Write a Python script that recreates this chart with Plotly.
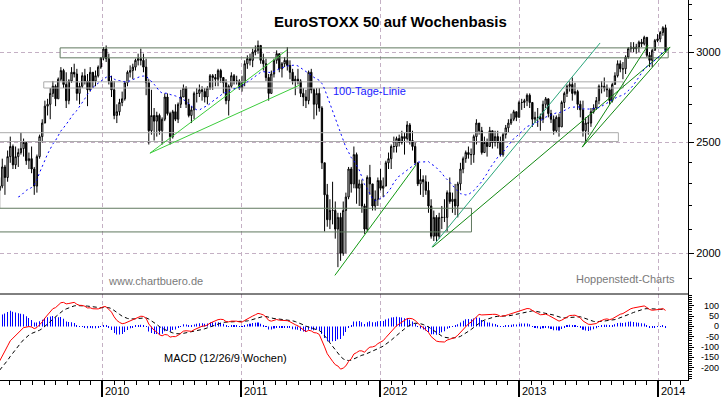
import pandas as pd
import plotly.graph_objects as go

# ---------------- data (weekly candles, weeks starting Monday) ----------------
PRE_START = "2009-01-12"          # first hidden warm-up week (used for indicators only)
pre_close = [2350, 2250, 2180, 2300, 2230, 2010, 1976, 1880, 1990, 2040, 2150, 2270]

close = [
    # 2009 (from week of Apr 6)
    2290, 2380, 2330, 2430, 2480, 2390, 2430, 2450, 2470, 2500, 2410, 2420, 2370, 2290, 2430,
    2530, 2600, 2690, 2700, 2760, 2800, 2730, 2840, 2890, 2810, 2720, 2830, 2880, 2870, 2760,
    2800, 2860, 2830, 2780, 2880, 2830, 2860, 2910, 2965,
    # 2010
    3018, 2960, 2830, 2780, 2640, 2660, 2710, 2730, 2820, 2880, 2890, 2910, 2950, 2960, 2950,
    2910, 2820, 2560, 2640, 2610, 2640, 2560, 2620, 2740, 2650, 2530, 2660, 2620, 2700, 2740,
    2790, 2700, 2640, 2670, 2760, 2760, 2780, 2770, 2740, 2790, 2860, 2850, 2840, 2890, 2850,
    2820, 2720, 2800, 2860, 2830, 2830, 2790,
    # 2011
    2820, 2930, 2960, 2950, 3000, 3010, 3040, 2950, 2930, 2850, 2760, 2870, 2950, 2990, 2900,
    2930, 2950, 2920, 2880, 2830, 2840, 2830, 2760, 2740, 2720, 2880, 2780, 2700, 2760, 2680,
    2400, 2250, 2140, 2180, 2180, 2100, 2150, 2000, 2180, 2240, 2370, 2300, 2440, 2280, 2300,
    2200, 2100, 2330, 2300, 2200, 2230, 2316,
    # 2012
    2280, 2290, 2400, 2420, 2480, 2480, 2520, 2500, 2530, 2520, 2590, 2510, 2480, 2400, 2300,
    2320, 2310, 2270, 2200, 2070, 2150, 2070, 2150, 2150, 2150, 2260, 2220, 2230, 2200, 2300,
    2370, 2420, 2450, 2440, 2440, 2530, 2600, 2560, 2450, 2500, 2480, 2560, 2500, 2530, 2500,
    2440, 2540, 2575, 2600, 2620, 2660, 2630, 2710,
    # 2013
    2710, 2720, 2750, 2710, 2620, 2630, 2630, 2620, 2700, 2730, 2650, 2620, 2560, 2630, 2580,
    2710, 2760, 2800, 2810, 2760, 2770, 2700, 2670, 2560, 2600, 2600, 2660, 2680, 2720, 2800,
    2800, 2790, 2780, 2720, 2810, 2860, 2930, 2900, 2900, 2970, 3020, 3030, 3020, 3030, 3060,
    3050, 3090, 2980, 2950, 3010, 3070, 3080,
    # 2014
    3120, 3150, 3010,
]

high = [
    # 2009
    2330, 2420, 2390, 2460, 2530, 2490, 2480, 2470, 2550, 2520, 2500, 2450, 2480, 2380, 2440,
    2540, 2620, 2720, 2730, 2790, 2830, 2810, 2850, 2910, 2900, 2880, 2840, 2910, 2930, 2900,
    2820, 2880, 2900, 2870, 2910, 2880, 2890, 2920, 2970,
    # 2010
    3030, 3040, 2990, 2860, 2830, 2700, 2730, 2770, 2830, 2890, 2920, 2930, 2960, 2990, 3020,
    2990, 2960, 2840, 2780, 2680, 2660, 2650, 2630, 2760, 2760, 2660, 2670, 2700, 2710, 2780,
    2810, 2800, 2730, 2690, 2770, 2790, 2810, 2800, 2790, 2800, 2870, 2870, 2870, 2900, 2900,
    2850, 2840, 2810, 2880, 2870, 2860, 2840,
    # 2011
    2860, 2950, 2980, 2990, 3020, 3040, 3070, 3040, 2990, 2960, 2870, 2890, 2960, 3010, 2990,
    2940, 2970, 3030, 2950, 2900, 2860, 2900, 2840, 2790, 2780, 2890, 2900, 2790, 2790, 2790,
    2690, 2400, 2300, 2230, 2310, 2220, 2170, 2170, 2220, 2260, 2380, 2380, 2480, 2450, 2320,
    2320, 2210, 2340, 2390, 2300, 2270, 2330,
    # 2012
    2370, 2330, 2410, 2450, 2490, 2530, 2530, 2540, 2560, 2550, 2610, 2600, 2560, 2500, 2400,
    2370, 2340, 2340, 2310, 2230, 2180, 2160, 2170, 2200, 2230, 2270, 2330, 2260, 2300, 2310,
    2400, 2430, 2460, 2480, 2470, 2540, 2620, 2600, 2580, 2530, 2520, 2580, 2560, 2560, 2560,
    2530, 2550, 2590, 2620, 2650, 2670, 2660, 2720,
    # 2013
    2730, 2730, 2760, 2760, 2710, 2660, 2680, 2650, 2720, 2740, 2730, 2670, 2640, 2640, 2650,
    2720, 2770, 2810, 2830, 2850, 2820, 2780, 2720, 2720, 2630, 2640, 2680, 2700, 2740, 2810,
    2830, 2850, 2810, 2790, 2820, 2880, 2950, 2950, 2940, 2980, 3030, 3060, 3060, 3050, 3070,
    3080, 3100, 3090, 3000, 3020, 3080, 3110,
    # 2014
    3130, 3160, 3170,
]

low = [
    # 2009
    2190, 2280, 2250, 2310, 2400, 2370, 2370, 2380, 2440, 2430, 2390, 2370, 2350, 2250, 2260,
    2420, 2500, 2600, 2640, 2620, 2740, 2690, 2730, 2830, 2790, 2680, 2700, 2820, 2850, 2720,
    2700, 2790, 2810, 2690, 2770, 2790, 2800, 2850, 2900,
    # 2010
    2950, 2940, 2810, 2740, 2620, 2600, 2640, 2690, 2720, 2800, 2850, 2840, 2890, 2920, 2920,
    2880, 2750, 2490, 2540, 2510, 2530, 2540, 2490, 2610, 2640, 2490, 2520, 2610, 2600, 2680,
    2740, 2680, 2630, 2600, 2620, 2710, 2740, 2720, 2710, 2700, 2780, 2780, 2800, 2800, 2820,
    2760, 2700, 2640, 2790, 2810, 2810, 2780,
    # 2011
    2770, 2800, 2900, 2920, 2910, 2980, 2990, 2930, 2890, 2830, 2720, 2760, 2850, 2930, 2880,
    2850, 2910, 2890, 2840, 2810, 2750, 2810, 2740, 2690, 2680, 2700, 2760, 2620, 2640, 2660,
    2370, 2090, 2110, 2100, 2120, 2060, 1945, 1970, 1990, 2000, 2230, 2260, 2280, 2210, 2200,
    2170, 2080, 2090, 2250, 2180, 2180, 2200,
    # 2012
    2270, 2240, 2290, 2370, 2370, 2450, 2450, 2480, 2490, 2440, 2510, 2490, 2460, 2390, 2290,
    2250, 2240, 2250, 2170, 2060, 2050, 2050, 2060, 2100, 2130, 2090, 2210, 2170, 2160, 2150,
    2270, 2350, 2400, 2420, 2390, 2400, 2490, 2540, 2440, 2450, 2430, 2480, 2470, 2480, 2470,
    2430, 2430, 2520, 2550, 2590, 2610, 2610, 2630,
    # 2013
    2670, 2680, 2690, 2680, 2580, 2600, 2580, 2560, 2600, 2680, 2630, 2600, 2540, 2550, 2530,
    2580, 2680, 2740, 2770, 2720, 2750, 2670, 2630, 2530, 2500, 2540, 2580, 2650, 2670, 2700,
    2760, 2770, 2740, 2700, 2710, 2810, 2850, 2880, 2840, 2870, 2960, 3000, 3000, 2990, 3000,
    3030, 3040, 2970, 2910, 2910, 3010, 3060,
    # 2014
    3060, 3100, 3000,
]

year_labels = ["2010", "2011", "2012", "2013", "2014"]
price_ticks = [2000, 2500, 3000]
price_minor_ticks = list(range(1900, 3400, 100))
macd_ticks = [100, 50, 0, -50, -100, -150, -200]

# indicator state carried in from before the hidden warm-up weeks
EMA_FAST_SEED = 2450
EMA_SLOW_SEED = 2700
SIGNAL_SEED = -200

# horizontal support / resistance zones
zone_start = ["2009-09-12", "2009-07-31", "2009-03-01", "2009-03-01"]
zone_end = ["2014-01-27", "2013-10-01", "2013-09-18", "2012-08-28"]
zone_low = [2965, 2790, 2505, 2088]
zone_high = [3025, 2825, 2550, 2190]

# trend lines
trend_start = ["2010-05-06", "2010-05-06", "2011-09-04", "2012-05-16", "2012-05-18", "2013-06-15", "2013-06-15"]
trend_start_val = [2447, 2447, 1913, 2025, 2025, 2477, 2477]
trend_end = ["2011-05-01", "2011-06-04", "2012-04-04", "2013-08-01", "2014-02-01", "2013-12-05", "2014-02-01"]
trend_end_val = [3012, 2807, 2389, 3055, 3030, 3042, 3030]

# ---------------- styles ----------------
FONT = "Liberation Sans, Arial, sans-serif"
GRID = "#c4b0c4"
zone_colors = ["#60785f", "#ababab", "#ababab", "#60785f"]
trend_colors = ["#3ccc3c", "#3ccc3c", "#129912", "#2aa57a", "#118811", "#118811", "#118811"]

# ---------------- computations ----------------
n = min(len(close), len(high), len(low))
close, high, low = close[:n], high[:n], low[:n]
all_close = pre_close + close
npre = len(pre_close)
weeks = pd.date_range(PRE_START, periods=len(all_close), freq="7D")
x = list(weeks[npre:])
opens = [pre_close[-1]] + close[:-1]


def ema(vals, span, seed):
    a = 2.0 / (span + 1)
    e = seed
    out = []
    for v in vals:
        e = e + a * (v - e)
        out.append(e)
    return out


fast = ema(all_close, 12, EMA_FAST_SEED)
slow = ema(all_close, 26, EMA_SLOW_SEED)
macd = [f - s for f, s in zip(fast, slow)]
signal = ema(macd, 9, SIGNAL_SEED)
hist = [m - s for m, s in zip(macd, signal)]
sma = pd.Series(all_close).rolling(20).mean()
sma = [None if pd.isna(v) else v for v in sma.tolist()]

macd_v, signal_v, hist_v, sma_v = macd[npre:], signal[npre:], hist[npre:], sma[npre:]

fig = go.Figure()

# zones
for i in range(len(zone_start)):
    fig.add_trace(go.Scatter(
        x=[zone_start[i], zone_end[i], zone_end[i], zone_start[i], zone_start[i]],
        y=[zone_low[i], zone_low[i], zone_high[i], zone_high[i], zone_low[i]],
        mode="lines", line=dict(color=zone_colors[i], width=1),
        xaxis="x", yaxis="y", hoverinfo="skip", showlegend=False))

# candles
fig.add_trace(go.Candlestick(
    x=x, open=opens, high=high, low=low, close=close,
    increasing=dict(line=dict(color="black", width=1), fillcolor="white"),
    decreasing=dict(line=dict(color="black", width=1), fillcolor="black"),
    whiskerwidth=0, xaxis="x", yaxis="y", showlegend=False, hoverinfo="skip"))

# trend lines
for i in range(len(trend_start)):
    fig.add_trace(go.Scatter(
        x=[trend_start[i], trend_end[i]], y=[trend_start_val[i], trend_end_val[i]],
        mode="lines", line=dict(color=trend_colors[i], width=1),
        xaxis="x", yaxis="y", hoverinfo="skip", showlegend=False))

# 100-day line (20 weeks)
fig.add_trace(go.Scatter(
    x=x, y=sma_v, mode="lines", line=dict(color="#0000ff", width=1, dash="2px,3px"),
    xaxis="x", yaxis="y", hoverinfo="skip", showlegend=False, connectgaps=False))

# MACD
fig.add_trace(go.Bar(
    x=x, y=hist_v, width=0.2 * 86400000, marker=dict(color="#0000ff", line=dict(width=0)),
    xaxis="x", yaxis="y2", hoverinfo="skip", showlegend=False))
fig.add_trace(go.Scatter(
    x=x, y=signal_v, mode="lines", line=dict(color="black", width=1, dash="4px,3px"),
    xaxis="x", yaxis="y2", hoverinfo="skip", showlegend=False))
fig.add_trace(go.Scatter(
    x=x, y=macd_v, mode="lines", line=dict(color="#ff0000", width=1),
    xaxis="x", yaxis="y2", hoverinfo="skip", showlegend=False))

PLOT_H = 380.0
SPLIT = (PLOT_H - 294) / PLOT_H


def py(px):
    return (PLOT_H - px) / PLOT_H


annotations = [
    dict(text="<b>EuroSTOXX 50 auf Wochenbasis</b>", x=390 / 688, y=py(21.5), xref="paper", yref="paper",
         showarrow=False, font=dict(family=FONT, size=15, color="black"), xanchor="center", yanchor="middle"),
    dict(text="100-Tage-Linie", x=331 / 688, y=py(91), xref="paper", yref="paper", showarrow=False,
         font=dict(family=FONT, size=11, color="#2020ff"), xanchor="left", yanchor="middle"),
    dict(text="www.chartbuero.de", x=106 / 688, y=py(281), xref="paper", yref="paper", showarrow=False,
         font=dict(family=FONT, size=11, color="#7a7a7a"), xanchor="left", yanchor="middle"),
    dict(text="Hoppenstedt-Charts", x=574 / 688, y=py(279), xref="paper", yref="paper", showarrow=False,
         font=dict(family=FONT, size=11, color="#7a7a7a"), xanchor="left", yanchor="middle"),
    dict(text="MACD (12/26/9 Wochen)", x=162 / 688, y=py(358), xref="paper", yref="paper", showarrow=False,
         font=dict(family=FONT, size=11, color="black"), xanchor="left", yanchor="middle"),
]
for yl in year_labels:
    annotations.append(dict(text=yl, x=f"{yl}-01-01", xref="x", y=py(391), yref="paper", showarrow=False,
                            xanchor="left", yanchor="middle", xshift=1,
                            font=dict(family=FONT, size=11, color="black")))
for v in macd_ticks:
    annotations.append(dict(text=str(v), x=721 / 688, xref="paper", y=v, yref="y2", showarrow=False,
                            xanchor="right", yanchor="middle",
                            font=dict(family=FONT, size=9, color="black")))

fig.update_layout(
    width=723, height=397,
    margin=dict(l=0, r=35, t=0, b=17),
    paper_bgcolor="white", plot_bgcolor="white",
    hovermode=False, showlegend=False,
    font=dict(family=FONT, size=11, color="black"),
    xaxis=dict(
        type="date", domain=[0, 1], anchor="y2",
        range=["2009-04-07", "2014-03-20"],
        rangeslider=dict(visible=False),
        tickmode="array", tickvals=[f"{y}-01-01" for y in year_labels],
        showticklabels=False, ticks="outside", ticklen=16, tickwidth=1.5, tickcolor="black",
        showgrid=True, gridcolor=GRID, griddash="4px,3px", gridwidth=1,
        showline=True, linecolor="black", linewidth=1, zeroline=False,
        minor=dict(ticks="outside", ticklen=4, tickwidth=1, tickcolor="black",
                   dtick="M1", tick0="2009-05-01", showgrid=False),
    ),
    yaxis=dict(
        type="log", domain=[SPLIT, 1], anchor="x", side="right",
        range=[3.26543, 3.52261],
        tickmode="array", tickvals=price_ticks, ticktext=[str(t) for t in price_ticks],
        ticks="outside", ticklen=5, tickcolor="black", tickfont=dict(size=11, color="black"),
        showgrid=True, gridcolor=GRID, griddash="4px,3px", gridwidth=1,
        showline=True, linecolor="black", linewidth=1, zeroline=False,
        minor=dict(tickmode="array", tickvals=price_minor_ticks, ticks="outside", ticklen=3,
                   tickcolor="black", showgrid=False),
    ),
    yaxis2=dict(
        domain=[0, SPLIT], anchor="x", side="right",
        range=[-259, 157],
        tickmode="array", tickvals=macd_ticks, showticklabels=False,
        ticks="outside", ticklen=5, tickcolor="black",
        showgrid=False, zeroline=False,
        showline=True, linecolor="black", linewidth=1,
        minor=dict(dtick=10, tick0=0, ticks="outside", ticklen=3, tickcolor="black", showgrid=False),
    ),
    shapes=[dict(type="line", xref="paper", yref="paper", x0=0, x1=1, y0=SPLIT, y1=SPLIT,
                 line=dict(color="black", width=1))],
    annotations=annotations,
)

fig.write_html("out.html")
